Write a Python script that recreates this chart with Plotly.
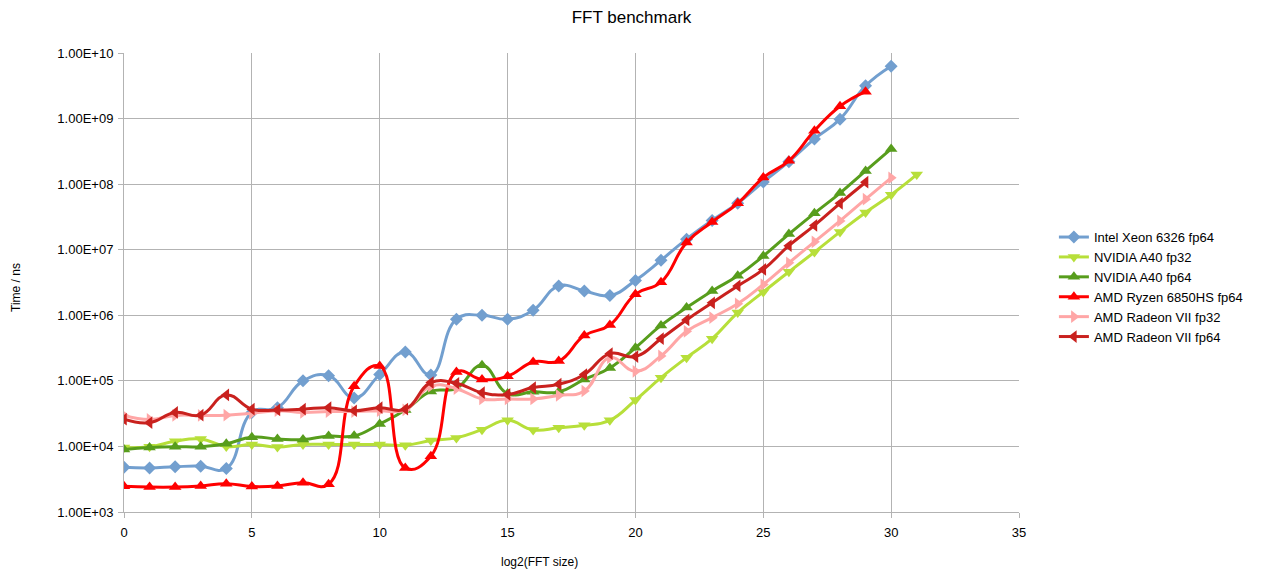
import plotly.graph_objects as go

# ---- data ----
x_intel = list(range(0, 31))
intel_xeon_fp64 = [4.8e3, 4.7e3, 4.9e3, 5.0e3, 4.6e3, 3.3e4, 3.9e4, 1.0e5, 1.2e5, 5.5e4,
                   1.25e5, 2.75e5, 1.23e5, 8.7e5, 1.0e6, 8.7e5, 1.19e6, 2.8e6, 2.35e6, 2.0e6,
                   3.4e6, 6.9e6, 1.45e7, 2.8e7, 5.1e7, 1.08e8, 2.2e8, 4.9e8, 9.8e8, 3.16e9,
                   6.3e9]

x_a40_32 = list(range(0, 32))
nvidia_a40_fp32 = [9.6e3, 9.9e3, 1.2e4, 1.3e4, 1.0e4, 1.07e4, 9.8e3, 1.07e4, 1.07e4, 1.07e4,
                   1.07e4, 1.04e4, 1.23e4, 1.35e4, 1.8e4, 2.5e4, 1.78e4, 1.93e4, 2.1e4, 2.5e4,
                   5.1e4, 1.12e5, 2.26e5, 4.4e5, 1.1e6, 2.27e6, 4.6e6, 9.2e6, 1.87e7, 3.7e7,
                   6.9e7, 1.4e8]

x_a40_64 = list(range(0, 31))
nvidia_a40_fp64 = [9.0e3, 9.6e3, 9.9e3, 9.9e3, 1.1e4, 1.38e4, 1.3e4, 1.27e4, 1.44e4, 1.45e4,
                   2.2e4, 3.6e4, 6.9e4, 7.7e4, 1.73e5, 6.4e4, 6.8e4, 6.8e4, 1.05e5, 1.57e5,
                   3.2e5, 7.0e5, 1.31e6, 2.35e6, 4.0e6, 8.0e6, 1.73e7, 3.6e7, 7.3e7, 1.59e8,
                   3.45e8]

x_ryzen = list(range(0, 30))
amd_ryzen_fp64 = [2.48e3, 2.4e3, 2.4e3, 2.5e3, 2.7e3, 2.45e3, 2.5e3, 2.8e3, 2.65e3, 8.3e4,
                  1.68e5, 4.7e3, 7.1e3, 1.36e5, 1.05e5, 1.18e5, 1.94e5, 2.0e5, 4.9e5, 7.1e5,
                  2.1e6, 3.2e6, 1.29e7, 2.65e7, 5.1e7, 1.26e8, 2.27e8, 6.5e8, 1.54e9, 2.57e9]

x_r7_32 = list(range(0, 31))
amd_radeon7_fp32 = [2.97e4, 2.58e4, 2.97e4, 2.97e4, 3.0e4, 3.2e4, 3.5e4, 3.3e4, 3.4e4, 3.4e4,
                    3.5e4, 3.6e4, 8.3e4, 7.6e4, 5.3e4, 5.3e4, 5.3e4, 6.0e4, 7.0e4, 2.26e5,
                    1.4e5, 2.4e5, 5.7e5, 9.2e5, 1.5e6, 2.95e6, 6.3e6, 1.32e7, 2.75e7, 5.9e7,
                    1.25e8]

x_r7_64 = list(range(0, 30))
amd_radeon7_fp64 = [2.6e4, 2.3e4, 3.3e4, 3.0e4, 6.1e4, 3.7e4, 3.6e4, 3.7e4, 3.9e4, 3.5e4,
                    3.9e4, 3.7e4, 9.4e4, 9.2e4, 6.6e4, 6.2e4, 7.9e4, 8.9e4, 1.25e5, 2.6e5,
                    2.35e5, 4.4e5, 8.5e5, 1.55e6, 2.8e6, 5.0e6, 1.15e7, 2.35e7, 5.1e7, 1.07e8]

y_tick_vals = [1e3, 1e4, 1e5, 1e6, 1e7, 1e8, 1e9, 1e10]
y_tick_text = ["1.00E+03", "1.00E+04", "1.00E+05", "1.00E+06", "1.00E+07",
               "1.00E+08", "1.00E+09", "1.00E+10"]

series = [
    ("Intel Xeon 6326 fp64", x_intel, intel_xeon_fp64, "#729fcf", "diamond", 10),
    ("NVIDIA A40 fp32", x_a40_32, nvidia_a40_fp32, "#b7df3a", "triangle-down", 11),
    ("NVIDIA A40 fp64", x_a40_64, nvidia_a40_fp64, "#579d1c", "triangle-up", 11),
    ("AMD Ryzen 6850HS fp64", x_ryzen, amd_ryzen_fp64, "#ff0000", "triangle-up", 11),
    ("AMD Radeon VII fp32", x_r7_32, amd_radeon7_fp32, "#ffa6a6", "triangle-right", 11),
    ("AMD Radeon VII fp64", x_r7_64, amd_radeon7_fp64, "#c9211e", "triangle-left", 11),
]

fig = go.Figure()
for name, xs, ys, col, sym, ms in series:
    fig.add_trace(go.Scatter(
        x=xs, y=ys, name=name, mode="lines+markers",
        line=dict(color=col, width=3, shape="spline", smoothing=1.3),
        marker=dict(color=col, symbol=sym, size=ms, line=dict(width=0)),
    ))

grid = "#b3b3b3"
font = "Liberation Sans, Arial, sans-serif"
fig.update_layout(
    width=1263, height=569,
    margin=dict(l=124, r=244, t=53, b=57),
    paper_bgcolor="white", plot_bgcolor="white",
    font=dict(family=font, size=13, color="#000000"),
    title=dict(text="FFT benchmark", x=0.5, xanchor="center", y=0.97, yanchor="middle",
               font=dict(size=17, color="#000000", family=font)),
    xaxis=dict(range=[0, 35], dtick=5, tick0=0, showgrid=True, gridcolor=grid, gridwidth=1,
               zeroline=False, showline=True, linecolor=grid, linewidth=1,
               ticks="outside", ticklen=5, tickcolor=grid, mirror=False,
               ticklabelstandoff=3,
               tickfont=dict(size=13, color="#000000")),
    yaxis=dict(type="log", range=[3, 10], tickvals=y_tick_vals, ticktext=y_tick_text,
               showgrid=True, gridcolor=grid, gridwidth=1, zeroline=False,
               showline=True, linecolor=grid, linewidth=1,
               ticks="outside", ticklen=5, tickcolor=grid, ticklabelstandoff=2,
               tickfont=dict(size=13, color="#000000")),
    legend=dict(x=1.039, xanchor="left", y=0.49, yanchor="middle",
                font=dict(size=13, color="#000000"), bgcolor="rgba(0,0,0,0)",
                tracegroupgap=0, itemwidth=30),
    showlegend=True,
)

fig.add_annotation(text="log2(FFT size)", xref="paper", yref="paper",
                   x=(539 - 124) / 895, y=-(562 - 512) / 459, xanchor="center", yanchor="middle",
                   showarrow=False, font=dict(size=12, color="#000000", family=font))
fig.add_annotation(text="Time / ns", xref="paper", yref="paper",
                   x=-(124 - 16) / 895, y=(512 - 288) / 459, xanchor="center", yanchor="middle",
                   textangle=-90, showarrow=False, font=dict(size=12, color="#000000", family=font))

fig.write_html("out.html")
